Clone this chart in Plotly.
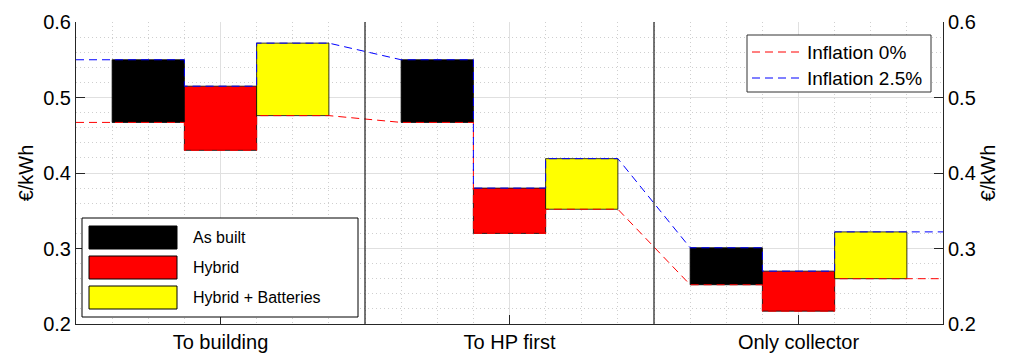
import plotly.graph_objects as go

# Scenario groups on the x axis
categories = ["To building", "To HP first", "Only collector"]
series_names = ["As built", "Hybrid", "Hybrid + Batteries"]
series_colors = ["#000000", "#ff0000", "#ffff00"]

# Levelised cost (€/kWh): bar bottom = inflation 0 %, bar top = inflation 2.5 %
infl_0 = {
    "As built":           [0.467, 0.467, 0.252],
    "Hybrid":             [0.430, 0.320, 0.217],
    "Hybrid + Batteries": [0.476, 0.352, 0.260],
}
infl_25 = {
    "As built":           [0.550, 0.550, 0.301],
    "Hybrid":             [0.515, 0.380, 0.270],
    "Hybrid + Batteries": [0.572, 0.419, 0.322],
}
y_ticks = [0.2, 0.3, 0.4, 0.5, 0.6]

FONT = "Liberation Sans, Arial, Helvetica, sans-serif"
TXT = "#262626"
BAR_W = 0.25
offsets = [-0.375, -0.125, 0.125]
cat_pos = [1, 2, 3]

fig = go.Figure()

# Floating bars: from the 0 % value up to the 2.5 % value
for name, color, off in zip(series_names, series_colors, offsets):
    lo = infl_0[name]
    hi = infl_25[name]
    fig.add_trace(go.Bar(
        x=cat_pos, y=[h - l for h, l in zip(hi, lo)], base=lo,
        width=BAR_W, offset=off, marker=dict(color=color, line=dict(color="black", width=0.8)),
        name=name, showlegend=False,
    ))


def step_path(values):
    """Staircase that runs along each bar edge, joined across groups."""
    xs, ys = [0.5], [values[series_names[0]][0]]
    for gi, g in enumerate(cat_pos):
        for name, off in zip(series_names, offsets):
            left = g + off
            xs += [left, left + BAR_W]
            ys += [values[name][gi]] * 2
    xs.append(3.5)
    ys.append(values[series_names[-1]][-1])
    return xs, ys


for vals, color, label in [(infl_0, "red", "Inflation 0%"), (infl_25, "blue", "Inflation 2.5%")]:
    xs, ys = step_path(vals)
    fig.add_trace(go.Scatter(x=xs, y=ys, mode="lines", name=label, showlegend=False,
                             line=dict(color=color, width=1, dash="8px,5px")))

# invisible trace carrying the right-hand axis
fig.add_trace(go.Scatter(x=[1], y=[0.4], yaxis="y2", mode="markers",
                         marker=dict(opacity=0), showlegend=False, hoverinfo="skip"))

# group separators
for xb in [1.5, 2.5]:
    fig.add_shape(type="line", xref="x", yref="paper", x0=xb, x1=xb, y0=0, y1=1,
                  line=dict(color="#1a1a1a", width=1.2), layer="above")

# ---- hand-drawn legends (pixel layout inside the plot area) ----
L, R, T, B = 76, 943, 22, 324
W, H = 1018, 356


def px(x):
    return (x - L) / (R - L)


def py(y):
    return (B - y) / (B - T)


# bar legend
fig.add_shape(type="rect", xref="paper", yref="paper", x0=px(82), x1=px(358), y0=py(317), y1=py(218),
              line=dict(color="black", width=1), fillcolor="white", layer="above")
for i, (name, color) in enumerate(zip(series_names, series_colors)):
    cy = 237.5 + 30 * i
    fig.add_shape(type="rect", xref="paper", yref="paper", x0=px(89), x1=px(177),
                  y0=py(cy + 11.5), y1=py(cy - 11.5),
                  line=dict(color="black", width=1), fillcolor=color, layer="above")
    fig.add_annotation(xref="paper", yref="paper", x=px(191), y=py(cy), text=name,
                       showarrow=False, xanchor="left", yanchor="middle",
                       font=dict(family=FONT, size=16, color="black"))

# line legend
fig.add_shape(type="rect", xref="paper", yref="paper", x0=px(747), x1=px(931), y0=py(92), y1=py(35),
              line=dict(color="#333333", width=1), fillcolor="white", layer="above")
for i, (color, label) in enumerate([("red", "Inflation 0%"), ("blue", "Inflation 2.5%")]):
    cy = 52 + 26 * i
    fig.add_shape(type="line", xref="paper", yref="paper", x0=px(752), x1=px(802),
                  y0=py(cy), y1=py(cy), line=dict(color=color, width=1, dash="8px,5px"), layer="above")
    fig.add_annotation(xref="paper", yref="paper", x=px(805), y=py(cy + 1), text=label,
                       showarrow=False, xanchor="left", yanchor="middle",
                       font=dict(family=FONT, size=19, color="black"))

grid_major = "#e0e0e0"
grid_minor = "#cfcfcf"
minor_dash = "1px,3px"

yaxis_common = dict(
    range=[0.2, 0.6], tickvals=y_ticks, ticktext=[f"{v:.1f}" for v in y_ticks],
    ticks="inside", ticklen=9, tickcolor=TXT, showline=True, linecolor=TXT, linewidth=1,
    zeroline=False, tickfont=dict(family=FONT, size=20, color="black"), automargin=False,
)
title_font = dict(family=FONT, size=20, color="black")

fig.update_layout(
    width=W, height=H,
    margin=dict(l=L, r=W - R, t=T, b=H - B, autoexpand=False),
    paper_bgcolor="white", plot_bgcolor="white",
    barmode="overlay", showlegend=False,
    xaxis=dict(
        range=[0.5, 3.5], tickvals=cat_pos, ticktext=categories, automargin=False,
        ticks="inside", ticklen=9, tickcolor=TXT, showline=True, linecolor=TXT, linewidth=1,
        zeroline=False, showgrid=True, gridcolor=grid_major, gridwidth=1,
        tickfont=dict(family=FONT, size=20, color="black"),
        minor=dict(tickmode="linear", tick0=0.5, dtick=0.125, showgrid=True,
                   gridcolor=grid_minor, griddash=minor_dash, gridwidth=1, ticks=""),
    ),
    yaxis=dict(
        **yaxis_common, side="left", showgrid=True, gridcolor=grid_major, gridwidth=1,
        title=dict(text="€/kWh", font=title_font, standoff=4),
        minor=dict(tickmode="linear", tick0=0.2, dtick=0.02, showgrid=True,
                   gridcolor=grid_minor, griddash=minor_dash, gridwidth=1, ticks=""),
    ),
    yaxis2=dict(**yaxis_common, side="right", overlaying="y", showgrid=False,
                title=dict(text="€/kWh", font=title_font, standoff=6)),
)

fig.write_html("out.html")
